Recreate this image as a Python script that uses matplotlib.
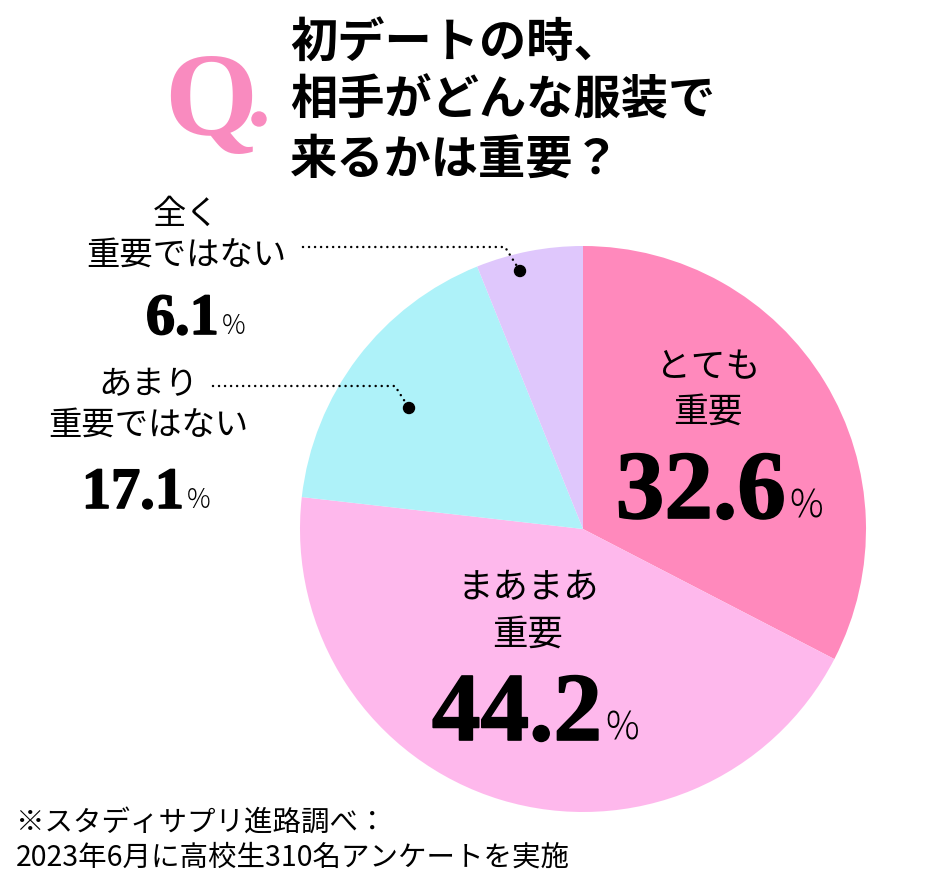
import matplotlib.pyplot as plt
import matplotlib.patheffects as pe
from matplotlib.patches import Circle

plt.rcParams['font.family'] = ['Noto Sans CJK JP', 'DejaVu Sans']

# data
labels = ['とても\n重要', 'まあまあ\n重要', 'あまり\n重要ではない', '全く\n重要ではない']
values = [32.6, 44.2, 17.1, 6.1]
colors = ['#FF89BC', '#FEB8EC', '#AEF2F9', '#DFC7FC']

title = '初デートの時、\n相手がどんな服装で\n来るかは重要？'
note = '※スタディサプリ進路調べ：\n2023年6月に高校生310名アンケートを実施'

W, H = 930, 882


def Y(y):
    # pixel row (from top) -> axes coordinate
    return H - y


fig = plt.figure(figsize=(W / 100, H / 100), dpi=100)
ax = fig.add_axes([0, 0, 1, 1])

ax.pie(values, colors=colors, startangle=90, counterclock=False,
       center=(583, Y(529)), radius=283, frame=True,
       wedgeprops=dict(linewidth=0))
ax.set_xlim(0, W)
ax.set_ylim(0, H)
ax.axis('off')

# "Q." mark
ax.text(211, Y(106), 'Q', family='Liberation Serif', fontweight='bold',
        fontsize=86, color='#F98BBF', ha='center', va='center')
ax.add_patch(Circle((259, Y(119)), 7, color='#F98BBF'))

# title
ax.text(290, Y(101), title, fontsize=34, fontweight='bold', ha='left',
        va='center', linespacing=1.27)

# labels inside / beside the pie
heavy = [pe.withStroke(linewidth=1.2, foreground='black')]


def pct(x, y, v, size, psize, gap):
    ax.text(x, Y(y), f'{v:.1f}', family='Liberation Serif',
            fontweight='bold', fontsize=size, ha='right', va='baseline',
            path_effects=heavy)
    ax.text(x + gap, Y(y), '%', fontsize=psize, fontweight='light',
            ha='left', va='baseline')


ax.text(708, Y(390), labels[0], fontsize=25, ha='center', va='center',
        linespacing=1.38)
pct(786, 518, values[0], 70, 27, 3)

ax.text(528, Y(611), labels[1], fontsize=25.5, ha='center', va='center',
        linespacing=1.38)
pct(602, 740, values[1], 70, 27, 3)

ax.text(148, Y(405), labels[2], fontsize=24, ha='center', va='center',
        linespacing=1.2)
pct(184, 508, values[2], 42, 19, 3)

ax.text(186, Y(235), labels[3], fontsize=24, ha='center', va='center',
        linespacing=1.2)
pct(219, 334, values[3], 42, 19, 3)

# leader lines
leader = dict(color='black', lw=1.8, ls=(0, (0.01, 2.4)),
              dash_capstyle='round')
ax.plot([303, 505, 520], [Y(247), Y(247), Y(271)], **leader)
ax.add_patch(Circle((520, Y(271)), 5.5, color='black'))
ax.plot([213, 395, 409], [Y(386), Y(386), Y(408)], **leader)
ax.add_patch(Circle((409, Y(408)), 5.5, color='black'))

# source note
ax.text(16, Y(840), note, fontsize=20.5, ha='left', va='center',
        linespacing=1.22)

fig.savefig('out.png', dpi=100)
